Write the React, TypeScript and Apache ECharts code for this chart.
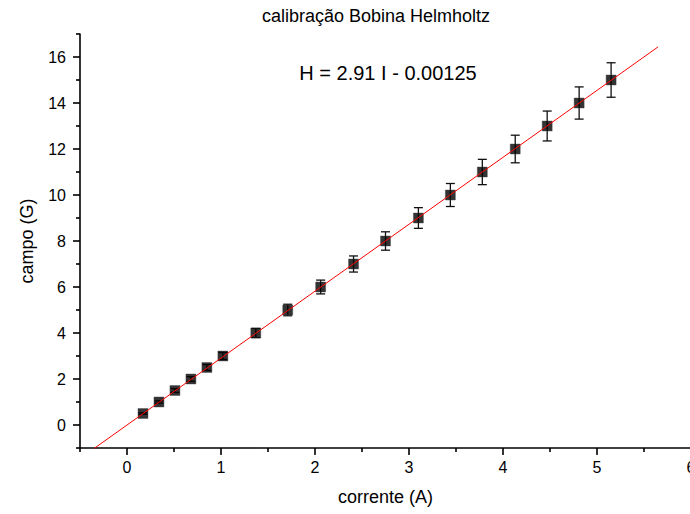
import React, { useEffect, useRef } from "react";
import * as echarts from "echarts";

const titleText = "calibração Bobina Helmholtz";
const equationText = "H = 2.91 I - 0.00125";
const xName = "corrente (A)";
const yName = "campo (G)";

// measured data (current A, field G, error G)
const current = [0.17, 0.34, 0.51, 0.68, 0.85, 1.02, 1.37, 1.71, 2.06, 2.41, 2.75, 3.1, 3.44, 3.78, 4.13, 4.47, 4.81, 5.15];
const field = [0.5, 1, 1.5, 2, 2.5, 3, 4, 5, 6, 7, 8, 9, 10, 11, 12, 13, 14, 15];
const fieldErr = [0.03, 0.05, 0.08, 0.1, 0.13, 0.15, 0.2, 0.25, 0.3, 0.35, 0.4, 0.45, 0.5, 0.55, 0.6, 0.65, 0.7, 0.75];

// linear fit
const slope = 2.91;
const intercept = -0.00125;
const fitRange = [-0.4, 5.65];

const xMajor = [0, 1, 2, 3, 4, 5, 6];
const xMinor = [-0.5, 0.5, 1.5, 2.5, 3.5, 4.5, 5.5];
const yMajor = [0, 2, 4, 6, 8, 10, 12, 14, 16];
const yMinor = [-1, 1, 3, 5, 7, 9, 11, 13, 15, 17];

const FONT = "Liberation Sans, Arial, Helvetica, sans-serif";

export default function App() {
  const ref = useRef<HTMLDivElement>(null);
  useEffect(() => {
    if (!ref.current) return;
    const chart = echarts.init(ref.current, undefined, { renderer: "svg" });
    const points = current.map((x, i) => [x, field[i]]);
    const errData = current.map((x, i) => [x, field[i] - fieldErr[i], field[i] + fieldErr[i]]);
    const fitData = fitRange.map((x) => [x, slope * x + intercept]);

    const baseX = {
      type: "value",
      min: -0.5,
      max: 6,
      position: "bottom",
      splitLine: { show: false },
    };
    const baseY = {
      type: "value",
      min: -1,
      max: 17,
      position: "left",
      splitLine: { show: false },
    };

    chart.setOption({
      animation: false,
      backgroundColor: "#fff",
      textStyle: { fontFamily: FONT },
      grid: { left: 80, width: 611, top: 34, height: 414, containLabel: false, outerBoundsMode: "none" },
      graphic: [
        {
          type: "text",
          x: 376,
          y: 16,
          style: { text: titleText, textAlign: "center", textVerticalAlign: "middle", font: `18px ${FONT}`, fill: "#000" },
        },
        {
          type: "text",
          x: 388,
          y: 73,
          style: { text: equationText, textAlign: "center", textVerticalAlign: "middle", font: `20px ${FONT}`, fill: "#000" },
        },
      ],
      xAxis: [
        {
          ...baseX,
          name: xName,
          nameLocation: "middle",
          nameGap: 40,
          nameTextStyle: { fontSize: 18, color: "#000", fontFamily: FONT },
          axisLine: { show: true, onZero: false, lineStyle: { color: "#000", width: 1.6 } },
          axisTick: { show: true, inside: false, length: 7, customValues: xMajor, lineStyle: { color: "#000", width: 1.6 } },
          axisLabel: { show: true, customValues: xMajor, margin: 11, fontSize: 16, color: "#000", fontFamily: FONT },
        },
        {
          ...baseX,
          axisLine: { show: false, onZero: false },
          axisTick: { show: true, inside: false, length: 4, customValues: xMinor, lineStyle: { color: "#000", width: 1.6 } },
          axisLabel: { show: false },
        },
      ],
      yAxis: [
        {
          ...baseY,
          name: yName,
          nameLocation: "middle",
          nameGap: 44,
          nameTextStyle: { fontSize: 18, color: "#000", fontFamily: FONT },
          axisLine: { show: true, onZero: false, lineStyle: { color: "#000", width: 1.6 } },
          axisTick: { show: true, inside: false, length: 7, customValues: yMajor, lineStyle: { color: "#000", width: 1.6 } },
          axisLabel: { show: true, customValues: yMajor, margin: 14, fontSize: 16, color: "#000", fontFamily: FONT },
        },
        {
          ...baseY,
          axisLine: { show: false, onZero: false },
          axisTick: { show: true, inside: false, length: 4, customValues: yMinor, lineStyle: { color: "#000", width: 1.6 } },
          axisLabel: { show: false },
        },
      ],
      series: [
        {
          type: "custom",
          xAxisIndex: 0,
          yAxisIndex: 0,
          z: 2,
          data: errData,
          renderItem: (params: any, api: any) => {
            const x = api.value(0);
            const lo = api.coord([x, api.value(1)]);
            const hi = api.coord([x, api.value(2)]);
            const cap = 4.5;
            const style = { stroke: "#111", lineWidth: 1.3, fill: "none" };
            return {
              type: "group",
              children: [
                { type: "line", shape: { x1: lo[0], y1: lo[1], x2: hi[0], y2: hi[1] }, style },
                { type: "line", shape: { x1: lo[0] - cap, y1: lo[1], x2: lo[0] + cap, y2: lo[1] }, style },
                { type: "line", shape: { x1: hi[0] - cap, y1: hi[1], x2: hi[0] + cap, y2: hi[1] }, style },
              ],
            };
          },
        },
        {
          type: "scatter",
          xAxisIndex: 0,
          yAxisIndex: 0,
          z: 3,
          symbol: "rect",
          symbolSize: 10,
          itemStyle: { color: "#000", borderColor: "#444", borderWidth: 0.5 },
          data: points,
        },
        {
          type: "line",
          xAxisIndex: 0,
          yAxisIndex: 0,
          z: 4,
          showSymbol: false,
          symbol: "none",
          clip: true,
          lineStyle: { color: "#ff0000", width: 1 },
          data: fitData,
        },
      ],
    });
    return () => chart.dispose();
  }, []);
  return <div ref={ref} style={{ position: "fixed", left: 0, top: 0, width: 690, height: 514 }} />;
}
